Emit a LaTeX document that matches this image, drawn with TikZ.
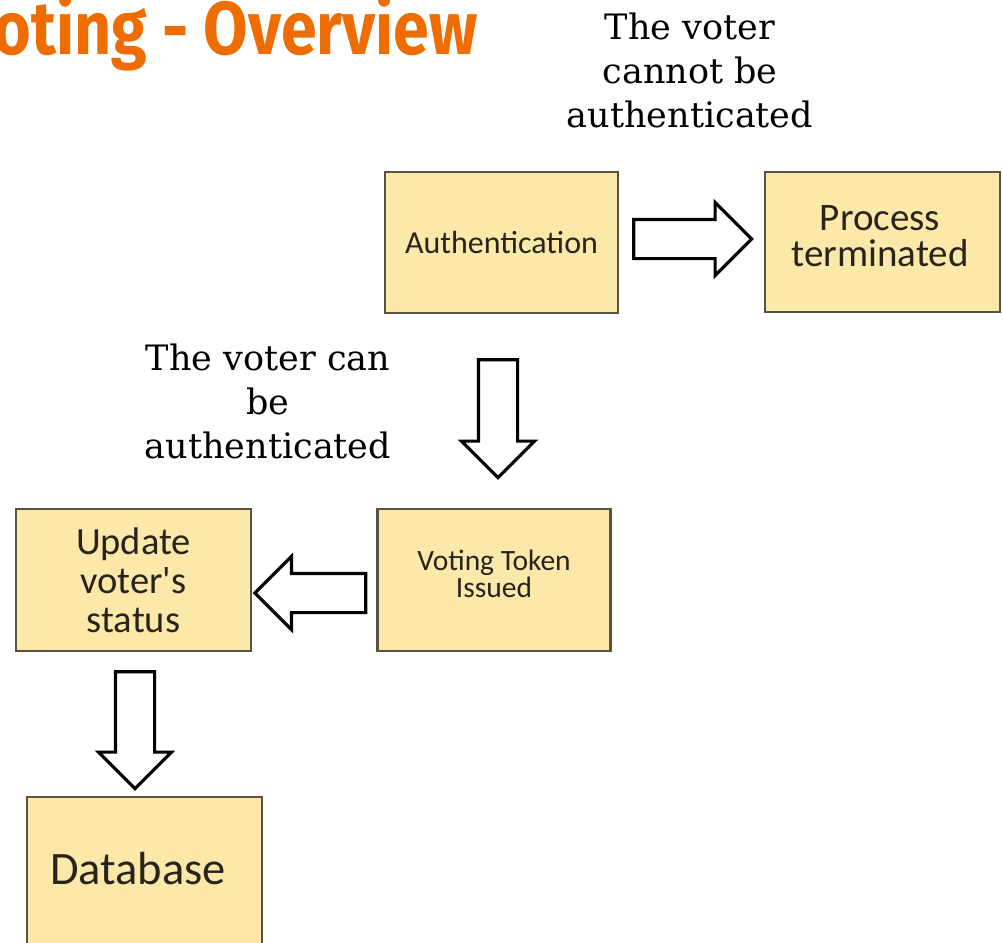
\documentclass[tikz,border=0pt]{standalone}
\usepackage{fontspec}
\usepackage{graphicx}
\usetikzlibrary{shapes.arrows,calc}
\newfontfamily\boxfont{Carlito}
\newfontfamily\labelfont{DejaVu Serif}
\newfontfamily\titlefont{Fira Sans}
\definecolor{boxfill}{RGB}{252,233,170}
\definecolor{boxline}{RGB}{88,82,66}
\definecolor{boxtext}{RGB}{40,36,28}
\definecolor{titleorange}{RGB}{238,108,0}
\begin{document}
\begin{tikzpicture}[x=1pt,y=-1pt,
  stepbox/.style={draw=boxline, fill=boxfill, line width=2.2pt, inner sep=0pt,
    align=center, text=boxtext},
  blockarrow/.style={single arrow, draw=black, fill=white, line width=3.2pt,
    inner sep=18pt, minimum width=70pt, single arrow head extend=17pt,
    single arrow tip angle=90, single arrow head indent=0pt, line join=miter,
    anchor=tail},
  note/.style={align=center, text=black,
    font=\labelfont\fontsize{35}{44}\selectfont}
]
\useasboundingbox (0,0) rectangle (1003,942);

% title
\node[anchor=base east, inner sep=0pt, text=titleorange,
  font=\titlefont\bfseries\fontsize{75}{75}\selectfont] (title) at (478,55)
  {\scalebox{0.86}[1]{Voting - Overview}};

% process steps
\node[stepbox, minimum width=233pt, minimum height=141pt,
  font=\boxfont\fontsize{32}{36}\selectfont] (auth) at (501.5,242.5) {Authentication};
\node[stepbox, minimum width=235pt, minimum height=140pt] (term) at (882.5,242) {};
\node[font=\boxfont\fontsize{39}{36}\selectfont, text=boxtext, align=center,
  inner sep=0pt] (termtext) at (880,236) {Process\\terminated};
\node[stepbox, minimum width=233pt, minimum height=142pt] (vote) at (494,580) {};
\node[font=\boxfont\fontsize{29.5}{27}\selectfont, text=boxtext, align=center,
  inner sep=0pt] (votetext) at (494,574) {Voting Token\\Issued};
\node[stepbox, minimum width=235pt, minimum height=142pt,
  font=\boxfont\fontsize{38.5}{39}\selectfont] (upd) at (133.5,580)
  {Update\\voter's\\status};
\node[stepbox, minimum width=235pt, minimum height=160pt] (db) at (144.5,877) {};
\node[font=\boxfont\fontsize{46.5}{46}\selectfont, text=boxtext] (dbtext) at (138,869) {Database};

% block arrows between the steps, placed by their tails
\node[blockarrow, minimum height=118pt] (a1)
  at ($(auth.east)+(13,-3.5)$) {};
\node[blockarrow, minimum height=118pt, shape border rotate=270] (a2)
  at ($(auth.south)+(-3.5,44)$) {};
\node[blockarrow, minimum height=111pt, shape border rotate=180] (a3)
  at ($(vote.west)+(-9,13)$) {};
\node[blockarrow, minimum height=117pt, shape border rotate=270] (a4)
  at ($(upd.south)+(1.5,18)$) {};

% outcome labels
\node[note] (lbl1) at (690,70) {The voter\\cannot be\\authenticated};
\node[note] (lbl2) at (268,401) {The voter can\\be\\authenticated};
\end{tikzpicture}
\end{document}
